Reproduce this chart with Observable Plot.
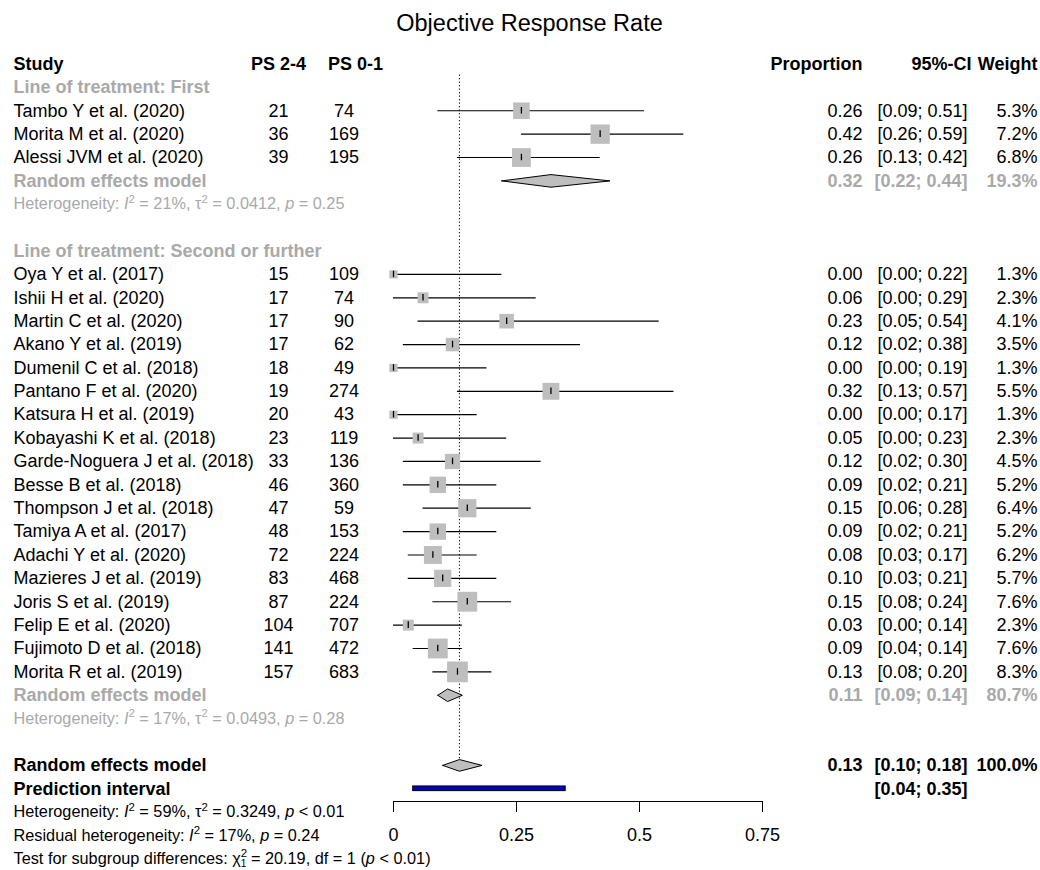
<!DOCTYPE html>
<html>
<head>
<meta charset="utf-8">
<script src="https://cdn.jsdelivr.net/npm/d3@7"></script>
<script src="https://cdn.jsdelivr.net/npm/@observablehq/plot@0.6"></script>
<style>
  body { margin: 0; background: #fff; font-family: "Liberation Sans", Arial, sans-serif; }
  #title { width: 1040px; height: 44px; line-height: 46px; box-sizing: border-box; padding-left: 19px;
           text-align: center; font-size: 23.5px; color: #000; }
  #chart svg { display: block; }
</style>
</head>
<body>
<div id="title">Objective Response Rate</div>
<div id="chart"></div>
<script>
// ---------------- data ----------------
const chartTitle = "Objective Response Rate";
const groupLabels = ["Line of treatment: First", "Line of treatment: Second or further"];
const studies = [
  "Tambo Y et al. (2020)", "Morita M et al. (2020)", "Alessi JVM et al. (2020)",
  "Oya Y et al. (2017)", "Ishii H et al. (2020)", "Martin C et al. (2020)", "Akano Y et al. (2019)",
  "Dumenil C et al. (2018)", "Pantano F et al. (2020)", "Katsura H et al. (2019)",
  "Kobayashi K et al. (2018)", "Garde-Noguera J et al. (2018)", "Besse B et al. (2018)",
  "Thompson J et al. (2018)", "Tamiya A et al. (2017)", "Adachi Y et al. (2020)",
  "Mazieres J et al. (2019)", "Joris S et al. (2019)", "Felip E et al. (2020)",
  "Fujimoto D et al. (2018)", "Morita R et al. (2019)"
];
const studyGroup = [0,0,0, 1,1,1,1,1,1,1,1,1,1,1,1,1,1,1,1,1,1];
const ps24 = [21,36,39, 15,17,17,17,18,19,20,23,33,46,47,48,72,83,87,104,141,157];
const ps01 = [74,169,195, 109,74,90,62,49,274,43,119,136,360,59,153,224,468,224,707,472,683];
const proportion = [0.26,0.42,0.26, 0.00,0.06,0.23,0.12,0.00,0.32,0.00,0.05,0.12,0.09,0.15,0.09,0.08,0.10,0.15,0.03,0.09,0.13];
const lower = [0.09,0.26,0.13, 0.00,0.00,0.05,0.02,0.00,0.13,0.00,0.00,0.02,0.02,0.06,0.02,0.03,0.03,0.08,0.00,0.04,0.08];
const upper = [0.51,0.59,0.42, 0.22,0.29,0.54,0.38,0.19,0.57,0.17,0.23,0.30,0.21,0.28,0.21,0.17,0.21,0.24,0.14,0.14,0.20];
const weight = [5.3,7.2,6.8, 1.3,2.3,4.1,3.5,1.3,5.5,1.3,2.3,4.5,5.2,6.4,5.2,6.2,5.7,7.6,2.3,7.6,8.3];

const groupEst = [0.32, 0.11];
const groupLower = [0.22, 0.09];
const groupUpper = [0.44, 0.14];
const groupWeight = [19.3, 80.7];
const groupHet = [
  "Heterogeneity: *I*^2 = 21%, τ^2 = 0.0412, *p* = 0.25",
  "Heterogeneity: *I*^2 = 17%, τ^2 = 0.0493, *p* = 0.28"
];
const overallEst = 0.134, overallLower = 0.10, overallUpper = 0.18, overallWeight = 100.0;
const predLower = 0.04, predUpper = 0.35;
const bottomStats = [
  "Heterogeneity: *I*^2 = 59%, τ^2 = 0.3249, *p* < 0.01",
  "Residual heterogeneity: *I*^2 = 17%, *p* = 0.24",
  "Test for subgroup differences: χ^2_1 = 20.19, df = 1 (*p* < 0.01)"
];
const headers = ["Study", "PS 2-4", "PS 0-1", "Proportion", "95%-CI", "Weight"];
const xTicks = [0, 0.25, 0.5, 0.75];

// ---------------- layout (styles / positions) ----------------
const W = 1040, H = 826;
const ML = 393, MR = 278, MB = 69;
const row0 = 19.5, rowH = 23.38;
const FS = 18, FS_SMALL = 16.3;
const GREY = "#a9a9a9", SQ = "#bebebe", BLUE = "#0000c8";
const col = { study: 13, ps24: 278, ps24H: 278, ps01: 343.5, ps01H: 355,
              est: 862, estH: 862, ci: 967, ciH: 971, w: 1037, wH: 1037 };

const f2 = v => v.toFixed(2);
const fci = (l, u) => `[${f2(l)}; ${f2(u)}]`;
const fw = v => `${v.toFixed(1)}%`;

// ---------------- build rows ----------------
const texts = [], studyData = [], diamondPts = [];
const T = (row, x, anchor, text, fill = "#000", bold = false, size = FS) =>
  texts.push({ row, x, anchor, text, fill, bold, size });

let r = 0;
T(r, col.study, "start", headers[0], "#000", true);
T(r, col.ps24H, "middle", headers[1], "#000", true);
T(r, col.ps01H, "middle", headers[2], "#000", true);
T(r, col.estH, "end", headers[3], "#000", true);
T(r, col.ciH, "end", headers[4], "#000", true);
T(r, col.wH, "end", headers[5], "#000", true);
r++;

groupLabels.forEach((gl, g) => {
  T(r, col.study, "start", gl, GREY, true); r++;
  studies.forEach((s, i) => {
    if (studyGroup[i] !== g) return;
    studyData.push({ row: r, est: proportion[i], lo: lower[i], hi: upper[i], w: weight[i] });
    T(r, col.study, "start", s);
    T(r, col.ps24, "middle", String(ps24[i]));
    T(r, col.ps01, "middle", String(ps01[i]));
    T(r, col.est, "end", f2(proportion[i]));
    T(r, col.ci, "end", fci(lower[i], upper[i]));
    T(r, col.w, "end", fw(weight[i]));
    r++;
  });
  T(r, col.study, "start", "Random effects model", GREY, true);
  T(r, col.est, "end", f2(groupEst[g]), GREY, true);
  T(r, col.ci, "end", fci(groupLower[g], groupUpper[g]), GREY, true);
  T(r, col.w, "end", fw(groupWeight[g]), GREY, true);
  diamondPts.push(...[[groupLower[g], 0], [groupEst[g], -1], [groupUpper[g], 0], [groupEst[g], 1], [groupLower[g], 0]]
    .map(([x, s]) => ({ id: "g" + g, x, y: r + s * 0.27 })));
  r++;
  T(r, col.study, "start", groupHet[g], GREY, false, FS_SMALL); r++;
  r++; // blank row
});

const overallRow = r;
T(r, col.study, "start", "Random effects model", "#000", true);
T(r, col.est, "end", f2(overallEst), "#000", true);
T(r, col.ci, "end", fci(overallLower, overallUpper), "#000", true);
T(r, col.w, "end", fw(overallWeight), "#000", true);
diamondPts.push(...[[overallLower, 0], [overallEst, -1], [overallUpper, 0], [overallEst, 1], [overallLower, 0]]
  .map(([x, s]) => ({ id: "all", x, y: r + s * 0.25 })));
r++;
const predRow = r;
T(r, col.study, "start", "Prediction interval", "#000", true);
T(r, col.ci, "end", fci(predLower, predUpper), "#000", true);
r++;
bottomStats.forEach(s => { T(r, col.study, "start", s, "#000", false, FS_SMALL); r++; });
const nRows = r;

function textMarks(items) {
  return d3.groups(items, d => [d.x, d.anchor, d.bold, d.size].join("|")).map(([, arr]) =>
    Plot.text(arr, {
      y: "row", text: "text", fill: "fill",
      frameAnchor: "left", dx: arr[0].x - ML, textAnchor: arr[0].anchor,
      fontWeight: arr[0].bold ? "bold" : "normal", fontSize: arr[0].size
    }));
}

const chart = Plot.plot({
  width: W, height: H,
  marginLeft: ML, marginRight: MR, marginTop: 0, marginBottom: MB,
  style: { fontFamily: '"Liberation Sans", Arial, sans-serif', fontSize: FS + "px", color: "#000", background: "#fff" },
  x: { domain: [0, d3.max(xTicks)], axis: null },
  y: { domain: [0, nRows - 1], range: [row0, row0 + rowH * (nRows - 1)], axis: null },
  r: { type: "sqrt", domain: [0, d3.max(weight)], range: [0, 11.7] },
  color: { type: "identity" },
  marks: [
    Plot.ruleX([overallEst], { x: d => d, y1: 0.47, y2: overallRow, stroke: "#000", strokeWidth: 1, strokeDasharray: "1.3,2.2" }),
    Plot.ruleY(studyData, { y: "row", x1: "lo", x2: "hi", stroke: "#000", strokeWidth: 1.2 }),
    Plot.dot(studyData, { x: "est", y: "row", r: "w", symbol: "square", fill: SQ, stroke: null }),
    Plot.ruleX(studyData, { x: "est", y1: d => d.row - 0.14, y2: d => d.row + 0.14, stroke: "#000", strokeWidth: 1.3 }),
    Plot.line(diamondPts, { x: "x", y: "y", z: "id", fill: SQ, stroke: "#000", strokeWidth: 1, curve: "linear" }),
    Plot.rect([{ lo: predLower, hi: predUpper, row: predRow }], {
      x1: "lo", x2: "hi", y1: d => d.row - 0.1, y2: d => d.row + 0.1, fill: BLUE, stroke: "#000", strokeWidth: 1 }),
    Plot.frame({ anchor: "bottom", stroke: "#000" }),
    Plot.axisX(xTicks, { anchor: "bottom", tickSize: 11, tickPadding: 16, tickFormat: d => String(d), fontSize: FS, label: null, stroke: "#000" }),
    ...textMarks(texts)
  ]
});

// rich text: *italic*, ^sup, _sub (stacked under preceding sup)
d3.select(chart).selectAll("text").each(function () {
  const s = this.textContent;
  if (!/[\^*_]/.test(s)) return;
  const fs = FS_SMALL;
  const segs = [];
  let italic = false, buf = "", i = 0;
  const flush = () => { if (buf) segs.push({ t: buf, italic, pos: 0 }); buf = ""; };
  while (i < s.length) {
    const c = s[i];
    if (c === "*") { flush(); italic = !italic; i++; }
    else if (c === "^" || c === "_") {
      flush();
      segs.push({ t: s[i + 1], italic: false, pos: c === "^" ? 1 : -1, stacked: c === "_" && s[i - 2] === "^" });
      i += 2;
    } else { buf += c; i++; }
  }
  flush();
  this.textContent = "";
  let cur = 0;
  for (const sg of segs) {
    const target = sg.pos === 1 ? -0.42 * fs : sg.pos === -1 ? 0.16 * fs : 0;
    const ts = d3.select(this).append("tspan").text(sg.t);
    if (target - cur !== 0) ts.attr("dy", target - cur);
    cur = target;
    if (sg.italic) ts.attr("font-style", "italic");
    if (sg.pos) ts.attr("font-size", (sg.pos === -1 ? 0.62 : 0.7) * fs);
    if (sg.stacked) ts.attr("dx", -0.556 * 0.7 * fs);
  }
});

document.getElementById("title").textContent = chartTitle;
document.getElementById("chart").appendChild(chart);
</script>
</body>
</html>
